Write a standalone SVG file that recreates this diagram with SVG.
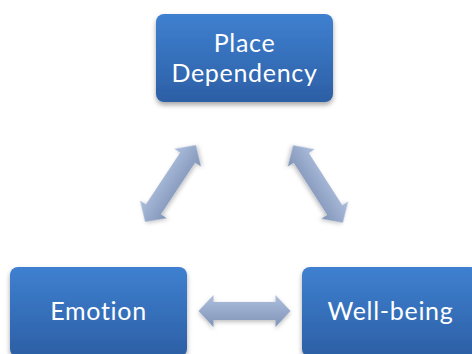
<svg xmlns="http://www.w3.org/2000/svg" width="472" height="354" viewBox="0 0 472 354">
<style>
.box{fill:url(#boxGrad);filter:url(#shadow)}
.lbl{font-family:Lato,"Liberation Sans",sans-serif;font-size:25px;letter-spacing:0.7px;fill:#ffffff;text-anchor:middle}
.arr{fill:url(#arrGrad);filter:url(#ashadow)}
</style>
<defs>
<linearGradient id="boxGrad" x1="0" y1="0" x2="0" y2="1">
<stop offset="0" stop-color="#3f80d0"/>
<stop offset="1" stop-color="#2c5fa5"/>
</linearGradient>
<linearGradient id="arrGrad" x1="0" y1="0" x2="0" y2="1">
<stop offset="0" stop-color="#aebfdd"/>
<stop offset="1" stop-color="#8094b8"/>
</linearGradient>
<filter id="shadow" x="-10%" y="-10%" width="120%" height="130%">
<feDropShadow dx="0" dy="3" stdDeviation="2.5" flood-color="#000" flood-opacity="0.35"/>
</filter>
<filter id="ashadow" x="-20%" y="-50%" width="140%" height="200%">
<feDropShadow dx="0" dy="2" stdDeviation="2" flood-color="#000" flood-opacity="0.25"/>
</filter>
<polygon id="dbl" points="-46,0 -31,-16 -31,-9 31,-9 31,-16 46,0 31,16 31,9 -31,9 -31,16"/>
</defs>
<g id="connectors">
<use href="#dbl" class="arr" transform="translate(170.5,183.5) rotate(-56.5)"/>
<use href="#dbl" class="arr" transform="translate(318,184) rotate(57.3)"/>
<use href="#dbl" class="arr" transform="translate(244.5,311)"/>
</g>
<g id="place-dependency">
<rect class="box" x="156" y="14" width="177" height="88" rx="8"/>
<text class="lbl" x="244.5" y="52">Place</text>
<text class="lbl" x="244.5" y="82">Dependency</text>
</g>
<g id="emotion">
<rect class="box" x="10" y="267" width="177" height="90" rx="8"/>
<text class="lbl" x="98.5" y="320">Emotion</text>
</g>
<g id="well-being">
<rect class="box" x="302" y="267" width="177" height="90" rx="8"/>
<text class="lbl" x="390.5" y="320">Well-being</text>
</g>
</svg>
